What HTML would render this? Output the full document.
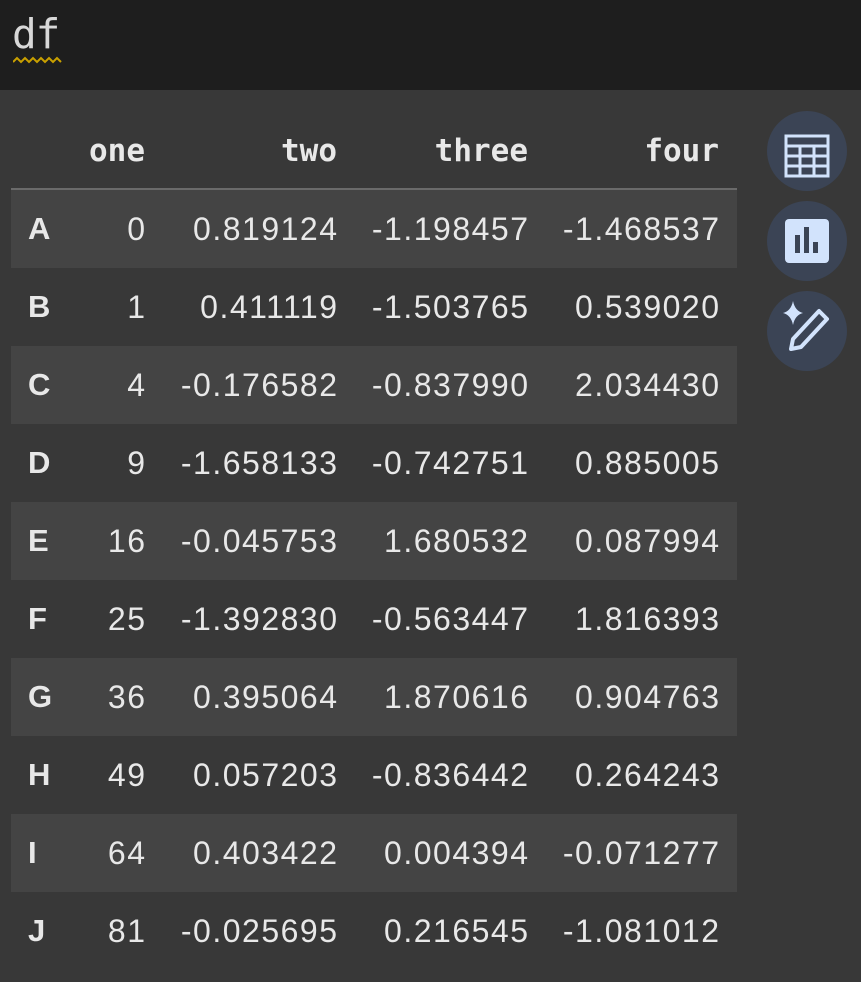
<!DOCTYPE html>
<html><head><meta charset="utf-8"><style>
body{margin:0;width:861px;height:982px;background:#383838;overflow:hidden;font-family:"Liberation Sans",Roboto,sans-serif;color:#e8e8e8;position:relative}
.top{position:absolute;left:0;top:0;width:861px;height:90px;background:#1e1e1e}
.code{position:absolute;left:12px;top:10px;font:41px "DejaVu Sans Mono",monospace;color:#d8d8d8;letter-spacing:-1px}
.row{position:absolute;left:11px;width:726px;height:78px}
.row.odd{background:#444}
.c{position:absolute;top:0px;line-height:78px;font-size:32px;letter-spacing:1.5px;text-align:right;white-space:nowrap}
.idx{position:absolute;left:17px;top:0px;line-height:78px;font-size:31px;font-weight:bold;letter-spacing:1px}
.h{position:absolute;top:133px;font:bold 31px "DejaVu Sans Mono",monospace;letter-spacing:0px;text-align:right}
.btn{position:absolute;left:767px;width:80px;height:80px;border-radius:50%;background:#3b4455}
</style></head><body>
<div class="top">
<div class="code">df</div>
<svg style="position:absolute;left:13px;top:56px" width="50" height="10"><path d="M0 6 L4 2 L8 6 L12 2 L16 6 L20 2 L24 6 L28 2 L32 6 L36 2 L40 6 L44 2 L48 6" stroke="#c9a000" stroke-width="2" fill="none"/></svg>
</div>
<div id="table">
<div class="h" style="right:716px">one</div>
<div class="h" style="right:524px">two</div>
<div class="h" style="right:333px">three</div>
<div class="h" style="right:142px">four</div>
<div style="position:absolute;left:11px;top:188px;width:726px;height:2px;background:#6a6a6a"></div>
</div>
<div class="btn" style="top:111px">
<svg width="80" height="80"><rect x="19" y="25" width="42" height="40" fill="none" stroke="#d2e3fc" stroke-width="3"/><path d="M19 35H61M19 45H61M19 55H61M33 35V65M47 35V65" stroke="#d2e3fc" stroke-width="3"/></svg></div>
<div class="btn" style="top:201px">
<svg width="80" height="80"><rect x="18" y="18" width="44" height="44" rx="4" fill="#d2e3fc"/><rect x="28" y="34" width="5" height="18" fill="#3b4455"/><rect x="37" y="26" width="5" height="26" fill="#3b4455"/><rect x="46" y="41" width="5" height="11" fill="#3b4455"/></svg></div>
<div class="btn" style="top:291px">
<svg width="80" height="80"><path d="M26 10 Q28 20 36 22 Q28 24 26 34 Q24 24 16 22 Q24 20 26 10Z" fill="#d2e3fc"/><path d="M52 20 L60 28 L34 56 L24 58 L26 48 Z" fill="none" stroke="#d2e3fc" stroke-width="4" stroke-linejoin="round"/></svg></div>
<script>
const idx=["A","B","C","D","E","F","G","H","I","J"];
const one=["0","1","4","9","16","25","36","49","64","81"];
const two=["0.819124","0.411119","-0.176582","-1.658133","-0.045753","-1.392830","0.395064","0.057203","0.403422","-0.025695"];
const three=["-1.198457","-1.503765","-0.837990","-0.742751","1.680532","-0.563447","1.870616","-0.836442","0.004394","0.216545"];
const four=["-1.468537","0.539020","2.034430","0.885005","0.087994","1.816393","0.904763","0.264243","-0.071277","-1.081012"];
const t=document.getElementById('table');
const rights=[135.5,327.5,518.5,709.5];
idx.forEach((k,i)=>{
 const r=document.createElement('div');
 r.className='row'+(i%2==0?' odd':'');
 r.style.top=(190+i*78)+'px';
 
 
 const ix=document.createElement('div');ix.className='idx';ix.textContent=k;
 
 
 r.appendChild(ix);
 [one[i],two[i],three[i],four[i]].forEach((v,j)=>{
  const c=document.createElement('div');c.className='c';c.textContent=v;
  c.style.right=(726-rights[j])+'px';
  
  
  r.appendChild(c);
 });
 t.appendChild(r);
});
</script>
</body></html>
